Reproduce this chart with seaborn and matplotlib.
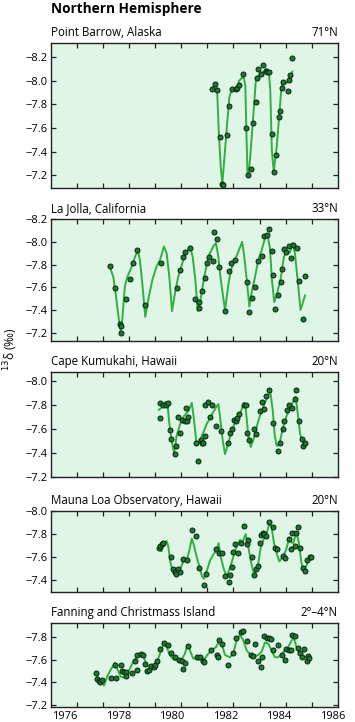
import matplotlib
matplotlib.use("Agg")
import matplotlib.pyplot as plt
import numpy as np
import pandas as pd
import seaborn as sns

# ---- data (decimal year, delta 13C in permil) ----
barrow_year = [1981.50, 1981.62, 1981.68, 1981.79, 1981.85, 1981.91, 1982.04, 1982.13, 1982.25,
               1982.39, 1982.44, 1982.50, 1982.66, 1982.76, 1982.85, 1982.94, 1983.04, 1983.13,
               1983.18, 1983.23, 1983.33, 1983.41, 1983.50, 1983.56, 1983.63, 1983.72, 1983.82,
               1983.88, 1983.99, 1984.03, 1984.09, 1984.16, 1984.32, 1984.37, 1984.41, 1984.50]
barrow_d13c = [-7.93, -7.97, -7.92, -7.52, -7.13, -7.12, -7.54, -7.79, -7.93,
               -7.93, -7.94, -7.96, -8.06, -7.60, -7.20, -7.25, -7.64, -7.82,
               -8.02, -8.10, -8.06, -8.13, -8.08, -8.07, -8.07, -7.55, -7.23,
               -7.37, -7.69, -7.74, -7.94, -7.99, -7.91, -8.01, -8.05, -8.19]
barrow_fit_year = [1981.54, 1981.64, 1981.69, 1981.75, 1981.82, 1981.88, 1981.98, 1982.06, 1982.14,
                   1982.23, 1982.35, 1982.44, 1982.51, 1982.61, 1982.69, 1982.74, 1982.77, 1982.82,
                   1982.86, 1982.94, 1983.06, 1983.13, 1983.22, 1983.35, 1983.43, 1983.53, 1983.62,
                   1983.67, 1983.73, 1983.80, 1983.91, 1984.01, 1984.09, 1984.18, 1984.28, 1984.41,
                   1984.50]
barrow_fit_d13c = [-7.95, -7.96, -7.89, -7.55, -7.27, -7.13, -7.41, -7.64, -7.86,
                   -7.92, -7.93, -7.95, -8.00, -8.025, -8.02, -7.95, -7.64, -7.21,
                   -7.20, -7.41, -7.78, -8.00, -8.04, -8.06, -8.08, -8.10, -8.07,
                   -7.92, -7.41, -7.23, -7.44, -7.72, -7.95, -7.99, -7.98, -8.02,
                   -8.08]

lajolla_year = [1977.68, 1977.87, 1978.05, 1978.08, 1978.09, 1978.28, 1978.43, 1978.53, 1978.68,
                1979.00, 1979.60, 1980.20, 1980.30, 1980.41, 1980.47, 1980.67, 1980.84, 1980.99,
                1981.02, 1981.12, 1981.22, 1981.29, 1981.37, 1981.52, 1981.57, 1981.67, 1981.77,
                1981.99, 1982.14, 1982.21, 1982.35, 1982.79, 1982.89, 1982.99, 1983.09, 1983.21,
                1983.36, 1983.43, 1983.53, 1983.61, 1983.72, 1983.76, 1983.83, 1983.96, 1984.06,
                1984.11, 1984.18, 1984.26, 1984.38, 1984.45, 1984.53, 1984.65, 1984.75, 1984.88,
                1984.98]
lajolla_d13c = [-7.79, -7.59, -7.28, -7.26, -7.20, -7.50, -7.67, -7.81, -7.93,
                -7.44, -7.81, -7.59, -7.75, -7.865, -7.91, -7.95, -7.50, -7.47,
                -7.42, -7.57, -7.68, -7.81, -7.87, -7.83, -8.09, -8.03, -7.78,
                -7.39, -7.74, -7.81, -7.84, -7.65, -7.38, -7.51, -7.60, -7.83,
                -7.88, -8.05, -8.06, -8.11, -7.92, -7.71, -7.41, -7.53, -7.65,
                -7.76, -7.94, -7.91, -7.96, -7.86, -7.97, -7.95, -7.66, -7.32,
                -7.70]
lajolla_fit_year = [1977.68, 1977.81, 1977.91, 1978.00, 1978.08, 1978.15, 1978.24, 1978.33, 1978.49,
                    1978.65, 1978.74, 1978.80, 1978.90, 1979.00, 1979.11, 1979.27, 1979.42, 1979.55,
                    1979.70, 1979.80, 1979.90, 1980.00, 1980.11, 1980.23, 1980.42, 1980.55, 1980.67,
                    1980.77, 1980.87, 1980.96, 1981.04, 1981.19, 1981.35, 1981.54, 1981.64, 1981.73,
                    1981.82, 1981.98, 1982.08, 1982.19, 1982.35, 1982.47, 1982.62, 1982.70, 1982.79,
                    1982.89, 1982.97, 1983.10, 1983.22, 1983.35, 1983.47, 1983.57, 1983.66, 1983.73,
                    1983.82, 1983.93, 1984.07, 1984.18, 1984.26, 1984.41, 1984.50, 1984.59, 1984.69,
                    1984.80, 1984.88, 1984.97]
lajolla_fit_d13c = [-7.78, -7.69, -7.52, -7.34, -7.21, -7.34, -7.61, -7.69, -7.78,
                    -7.89, -7.91, -7.84, -7.61, -7.34, -7.49, -7.67, -7.78, -7.84,
                    -7.96, -7.90, -7.69, -7.39, -7.55, -7.69, -7.84, -7.91, -7.96,
                    -7.87, -7.67, -7.39, -7.46, -7.67, -7.87, -7.96, -7.99, -7.87,
                    -7.67, -7.40, -7.58, -7.75, -7.84, -7.91, -8.00, -7.87, -7.67,
                    -7.43, -7.55, -7.69, -7.84, -7.93, -8.03, -8.06, -7.94, -7.67,
                    -7.47, -7.55, -7.69, -7.87, -7.90, -7.91, -7.99, -7.90, -7.67,
                    -7.40, -7.46, -7.53]

kumukahi_year = [1979.54, 1979.56, 1979.67, 1979.76, 1979.85, 1979.91, 1979.96, 1980.11, 1980.15,
                 1980.23, 1980.30, 1980.38, 1980.48, 1980.51, 1980.55, 1980.61, 1980.89, 1980.98,
                 1981.07, 1981.11, 1981.16, 1981.23, 1981.24, 1981.33, 1981.42, 1981.49, 1981.64,
                 1981.84, 1982.10, 1982.16, 1982.25, 1982.33, 1982.39, 1982.44, 1982.52, 1982.69,
                 1982.76, 1982.81, 1982.89, 1983.06, 1983.13, 1983.28, 1983.35, 1983.45, 1983.52,
                 1983.61, 1983.78, 1983.97, 1984.03, 1984.13, 1984.19, 1984.28, 1984.38, 1984.48,
                 1984.59, 1984.63, 1984.75, 1984.84, 1984.88, 1984.97]
kumukahi_d13c = [-7.69, -7.82, -7.80, -7.80, -7.82, -7.59, -7.52, -7.39, -7.46,
                 -7.70, -7.57, -7.68, -7.67, -7.78, -7.67, -7.70, -7.48, -7.33,
                 -7.51, -7.48, -7.48, -7.54, -7.80, -7.83, -7.70, -7.80, -7.63,
                 -7.58, -7.48, -7.57, -7.60, -7.68, -7.67, -7.69, -7.73, -7.80,
                 -7.80, -7.57, -7.51, -7.60, -7.56, -7.75, -7.83, -7.77, -7.88,
                 -7.93, -7.65, -7.42, -7.48, -7.60, -7.67, -7.76, -7.80, -7.78,
                 -7.85, -7.93, -7.67, -7.52, -7.46, -7.48]
kumukahi_fit_year = [1979.50, 1979.61, 1979.76, 1979.84, 1979.90, 1979.98, 1980.08, 1980.17, 1980.30,
                     1980.45, 1980.61, 1980.74, 1980.82, 1980.92, 1981.04, 1981.17, 1981.29, 1981.48,
                     1981.64, 1981.73, 1981.79, 1981.89, 1981.98, 1982.10, 1982.25, 1982.41, 1982.56,
                     1982.69, 1982.76, 1982.85, 1982.94, 1983.04, 1983.16, 1983.28, 1983.41, 1983.60,
                     1983.68, 1983.76, 1983.84, 1983.91, 1984.01, 1984.13, 1984.28, 1984.41, 1984.53,
                     1984.62, 1984.69, 1984.78, 1984.84, 1984.90]
kumukahi_fit_d13c = [-7.76, -7.78, -7.83, -7.79, -7.65, -7.51, -7.40, -7.54, -7.64,
                     -7.71, -7.75, -7.82, -7.68, -7.47, -7.51, -7.57, -7.64, -7.72,
                     -7.78, -7.81, -7.71, -7.51, -7.39, -7.48, -7.60, -7.68, -7.74,
                     -7.82, -7.76, -7.54, -7.45, -7.51, -7.62, -7.71, -7.79, -7.89,
                     -7.90, -7.76, -7.54, -7.46, -7.47, -7.60, -7.71, -7.79, -7.83,
                     -7.87, -7.74, -7.57, -7.51, -7.48]

maunaloa_year = [1979.52, 1979.57, 1979.62, 1979.67, 1979.98, 1980.02, 1980.10, 1980.15, 1980.22,
                 1980.30, 1980.40, 1980.57, 1980.76, 1980.89, 1981.01, 1981.19, 1981.27, 1981.64,
                 1981.77, 1981.87, 1981.99, 1982.11, 1982.16, 1982.25, 1982.29, 1982.35, 1982.47,
                 1982.56, 1982.69, 1982.79, 1982.84, 1982.99, 1983.06, 1983.13, 1983.21, 1983.27,
                 1983.32, 1983.38, 1983.45, 1983.51, 1983.61, 1983.78, 1983.84, 1983.91, 1984.13,
                 1984.22, 1984.36, 1984.43, 1984.48, 1984.58, 1984.63, 1984.69, 1984.79, 1984.88,
                 1984.98, 1985.04, 1985.14, 1985.21]
maunaloa_d13c = [-7.68, -7.70, -7.71, -7.72, -7.60, -7.49, -7.47, -7.45, -7.49,
                 -7.47, -7.58, -7.57, -7.84, -7.78, -7.50, -7.35, -7.45, -7.67,
                 -7.63, -7.63, -7.43, -7.38, -7.44, -7.51, -7.64, -7.71, -7.63,
                 -7.72, -7.87, -7.71, -7.75, -7.60, -7.44, -7.49, -7.52, -7.72,
                 -7.79, -7.81, -7.80, -7.78, -7.91, -7.86, -7.68, -7.67, -7.61,
                 -7.59, -7.76, -7.67, -7.81, -7.70, -7.81, -7.86, -7.68, -7.50,
                 -7.48, -7.57, -7.60, -7.60]
maunaloa_fit_year = [1979.52, 1979.61, 1979.67, 1979.80, 1979.86, 1979.95, 1980.05, 1980.17, 1980.30,
                     1980.42, 1980.55, 1980.64, 1980.74, 1980.82, 1980.92, 1981.02, 1981.12, 1981.19,
                     1981.29, 1981.42, 1981.54, 1981.67, 1981.74, 1981.82, 1981.94, 1982.04, 1982.16,
                     1982.29, 1982.41, 1982.54, 1982.64, 1982.75, 1982.85, 1982.94, 1983.04, 1983.10,
                     1983.22, 1983.31, 1983.41, 1983.53, 1983.63, 1983.72, 1983.81, 1983.91, 1984.01,
                     1984.13, 1984.26, 1984.36, 1984.44, 1984.53, 1984.65, 1984.74, 1984.84, 1984.93,
                     1985.03, 1985.15]
maunaloa_fit_d13c = [-7.66, -7.65, -7.69, -7.74, -7.69, -7.54, -7.46, -7.43, -7.49,
                     -7.56, -7.57, -7.65, -7.76, -7.70, -7.60, -7.52, -7.43, -7.41,
                     -7.47, -7.57, -7.62, -7.66, -7.72, -7.60, -7.49, -7.43, -7.50,
                     -7.60, -7.69, -7.75, -7.73, -7.80, -7.69, -7.57, -7.47, -7.45,
                     -7.54, -7.68, -7.75, -7.80, -7.89, -7.86, -7.72, -7.63, -7.56,
                     -7.60, -7.66, -7.75, -7.73, -7.72, -7.82, -7.72, -7.54, -7.48,
                     -7.53, -7.61]

fanning_year = [1977.16, 1977.21, 1977.26, 1977.31, 1977.38, 1977.71, 1977.86, 1977.91, 1978.08,
                1978.13, 1978.20, 1978.28, 1978.30, 1978.49, 1978.61, 1978.68, 1978.71, 1978.83,
                1978.93, 1979.00, 1979.08, 1979.15, 1979.23, 1979.32, 1979.37, 1979.45, 1979.55,
                1979.70, 1979.86, 1979.98, 1980.11, 1980.26, 1980.36, 1980.42, 1980.50, 1980.61,
                1980.92, 1981.04, 1981.14, 1981.19, 1981.44, 1981.67, 1981.73, 1981.77, 1981.87,
                1982.09, 1982.26, 1982.39, 1982.56, 1982.66, 1982.79, 1982.94, 1983.04, 1983.11,
                1983.22, 1983.31, 1983.36, 1983.45, 1983.53, 1983.62, 1983.70, 1983.78, 1983.97,
                1984.09, 1984.22, 1984.26, 1984.38, 1984.46, 1984.50, 1984.60, 1984.69, 1984.78,
                1984.85, 1984.93, 1985.03, 1985.09, 1985.13]
fanning_d13c = [-7.48, -7.43, -7.41, -7.40, -7.42, -7.44, -7.55, -7.44, -7.55,
                -7.50, -7.49, -7.49, -7.45, -7.48, -7.59, -7.51, -7.64, -7.65,
                -7.64, -7.56, -7.50, -7.51, -7.54, -7.53, -7.55, -7.59, -7.69,
                -7.75, -7.73, -7.66, -7.62, -7.60, -7.59, -7.52, -7.57, -7.72,
                -7.62, -7.62, -7.59, -7.58, -7.68, -7.64, -7.62, -7.77, -7.74,
                -7.55, -7.66, -7.79, -7.84, -7.85, -7.76, -7.64, -7.63, -7.74,
                -7.59, -7.53, -7.62, -7.81, -7.79, -7.79, -7.78, -7.68, -7.73,
                -7.64, -7.60, -7.69, -7.68, -7.68, -7.82, -7.81, -7.70, -7.66,
                -7.62, -7.69, -7.59, -7.63, -7.61]
fanning_fit_year = [1977.18, 1977.31, 1977.46, 1977.58, 1977.71, 1977.87, 1977.95, 1978.08, 1978.20,
                    1978.30, 1978.43, 1978.55, 1978.68, 1978.80, 1978.93, 1979.03, 1979.11, 1979.24,
                    1979.36, 1979.49, 1979.59, 1979.70, 1979.80, 1979.92, 1980.05, 1980.20, 1980.36,
                    1980.48, 1980.58, 1980.67, 1980.79, 1980.98, 1981.11, 1981.23, 1981.35, 1981.48,
                    1981.64, 1981.79, 1981.89, 1981.98, 1982.16, 1982.29, 1982.41, 1982.54, 1982.66,
                    1982.79, 1982.94, 1983.10, 1983.22, 1983.35, 1983.47, 1983.60, 1983.72, 1983.84,
                    1983.97, 1984.09, 1984.22, 1984.34, 1984.47, 1984.55, 1984.65, 1984.75, 1984.90,
                    1985.03, 1985.13]
fanning_fit_d13c = [-7.46, -7.42, -7.37, -7.45, -7.51, -7.57, -7.52, -7.45, -7.44,
                    -7.46, -7.52, -7.58, -7.62, -7.65, -7.63, -7.57, -7.54, -7.54,
                    -7.56, -7.61, -7.68, -7.74, -7.71, -7.64, -7.60, -7.59, -7.60,
                    -7.65, -7.73, -7.68, -7.61, -7.60, -7.60, -7.61, -7.65, -7.68,
                    -7.71, -7.77, -7.71, -7.64, -7.62, -7.65, -7.77, -7.82, -7.77,
                    -7.68, -7.64, -7.63, -7.64, -7.67, -7.75, -7.74, -7.68, -7.62,
                    -7.62, -7.65, -7.68, -7.71, -7.77, -7.79, -7.71, -7.65, -7.62,
                    -7.62, -7.63]

stations = ["Point Barrow, Alaska", "La Jolla, California", "Cape Kumukahi, Hawaii",
            "Mauna Loa Observatory, Hawaii", "Fanning and Christmass Island"]
latitudes = ["71°N", "33°N", "20°N", "20°N", "2°–4°N"]
year_labels = [1976, 1978, 1980, 1982, 1984, 1986]

# ---- style ----
sns.set_style("ticks")
plt.rcParams['font.family'] = ['Open Sans', 'DejaVu Sans']
plt.rcParams['text.color'] = 'black'
plt.rcParams['xtick.color'] = 'black'
plt.rcParams['ytick.color'] = 'black'

bg = "#dff5e6"
line_col = "#2fb040"
dot_face = "#1c7a30"
dot_edge = "#0a2510"
spine_col = "#222222"

W, H = 355, 722
fig = plt.figure(figsize=(W / 100, H / 100), dpi=100)

# panel boxes in pixels (top, bottom), y limits (bottom value, top value), y ticks
boxes = [(43, 188), (219, 341), (372, 477), (511, 592), (623, 707)]
ylims = [(-7.092, -8.319), (-7.127, -8.202), (-7.198, -8.079), (-7.293, -8.002), (-7.18, -7.923)]
yticks = [np.arange(-8.2, -7.19, 0.2), np.arange(-8.2, -7.19, 0.2), np.arange(-8.0, -7.19, 0.2),
          np.arange(-8.0, -7.39, 0.2), np.arange(-7.8, -7.19, 0.2)]

pts = [(barrow_year, barrow_d13c), (lajolla_year, lajolla_d13c), (kumukahi_year, kumukahi_d13c),
       (maunaloa_year, maunaloa_d13c), (fanning_year, fanning_d13c)]
fits = [(barrow_fit_year, barrow_fit_d13c), (lajolla_fit_year, lajolla_fit_d13c),
        (kumukahi_fit_year, kumukahi_fit_d13c), (maunaloa_fit_year, maunaloa_fit_d13c),
        (fanning_fit_year, fanning_fit_d13c)]

x_marks = np.linspace(1976.44, 1985.22, 10)

for i, (top, bot) in enumerate(boxes):
    ax = fig.add_axes([51 / W, 1 - bot / H, (338 - 51) / W, (bot - top) / H])
    ax.set_facecolor(bg)

    fit_df = pd.DataFrame({"year": fits[i][0], "d13c": fits[i][1]})
    pt_df = pd.DataFrame({"year": pts[i][0], "d13c": pts[i][1]})
    sns.lineplot(data=fit_df, x="year", y="d13c", ax=ax, color=line_col,
                 linewidth=1.4, estimator=None, zorder=2)
    sns.scatterplot(data=pt_df, x="year", y="d13c", ax=ax, s=13, color=dot_face,
                    edgecolor=dot_edge, linewidth=0.7, zorder=3)

    ax.set_xlim(1975.48, 1986.2)
    ax.set_ylim(*ylims[i])
    ax.set_yticks(yticks[i])
    ax.set_yticklabels([f"{v:.1f}".replace("-", "\u2212") for v in yticks[i]])
    ax.set_xticks(year_labels)
    ax.set_xticks(x_marks, minor=True)
    ax.tick_params(axis="x", which="major", length=0, pad=3, labelsize=8)
    ax.tick_params(axis="x", which="minor", direction="in", length=3.5, width=0.9,
                   top=True, bottom=True, color=spine_col)
    ax.tick_params(axis="y", direction="in", length=3.5, width=0.9, left=True, right=True,
                   labelsize=8, pad=2.5, color=spine_col)
    if i < len(boxes) - 1:
        ax.tick_params(axis="x", which="major", labelbottom=False)
    for s in ax.spines.values():
        s.set_color(spine_col)
        s.set_linewidth(1.0)
    ax.set_xlabel("")
    ax.set_ylabel("")

    ax.annotate(stations[i], xy=(0, 1), xycoords="axes fraction", xytext=(0, 7.6),
                textcoords="offset points", ha="left", va="center", fontsize=8.3)
    ax.annotate(latitudes[i], xy=(1, 1), xycoords="axes fraction", xytext=(0, 7.6),
                textcoords="offset points", ha="right", va="center", fontsize=8.3)

fig.text(51 / W, 1 - 9 / H, "Northern Hemisphere", ha="left", va="center",
         fontsize=9.8, fontweight="bold")
fig.text(11 / W, 1 - 349 / H, "$^{13}$δ (‰)", ha="center", va="center",
         rotation=90, fontsize=8.6)

fig.savefig("out.png", dpi=100)
